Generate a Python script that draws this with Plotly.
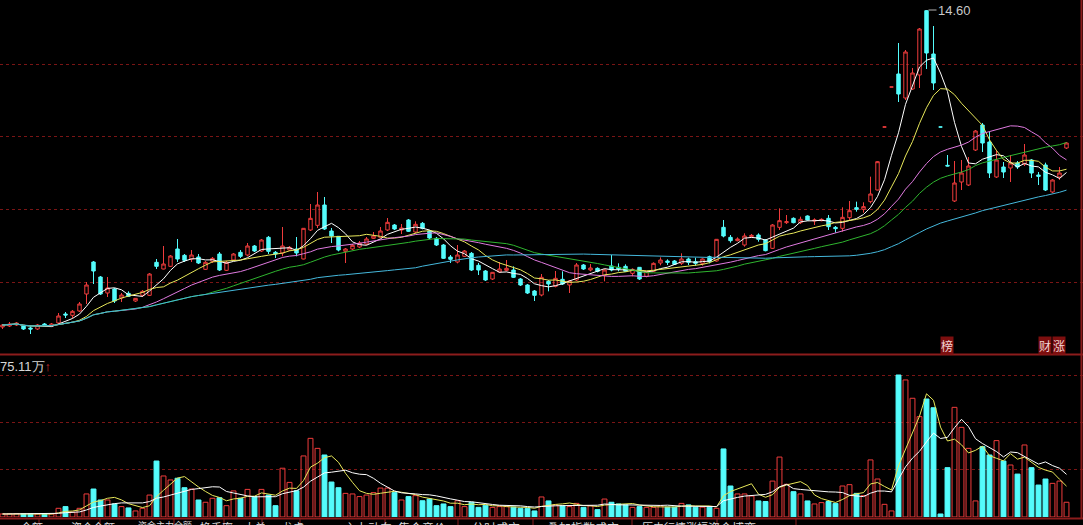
import plotly.graph_objects as go
import pandas as pd

opens = [5.09,5.12,5.15,5.12,5.06,5.03,5.18,5.12,5.21,5.48,5.44,5.57,6.08,7.04,6.59,6.11,6.23,5.96,6.10,5.87,
         6.04,6.04,7.03,6.83,6.91,7.43,7.24,7.13,7.19,6.82,7.06,7.28,6.79,7.10,7.33,7.25,7.52,7.37,7.78,7.33,
         7.31,7.40,7.43,7.13,8.00,8.14,8.75,7.97,7.81,7.36,7.43,7.49,7.58,7.75,7.78,8.00,8.15,8.00,8.30,7.94,
         8.20,7.97,7.75,7.55,7.19,7.04,7.21,7.30,6.94,6.77,6.53,6.74,6.79,6.80,6.53,6.35,6.17,6.05,6.46,6.31,
         6.52,6.35,6.50,6.95,6.80,6.85,6.64,6.92,6.88,6.91,6.70,6.88,6.61,6.76,7.01,7.07,7.07,7.00,7.13,7.05,
         7.00,7.20,7.07,8.08,7.78,7.68,7.55,7.80,7.85,7.70,7.45,8.08,8.22,8.35,8.22,8.42,8.27,8.28,8.35,8.08,
         8.05,8.37,8.67,8.62,8.85,9.20,11.09,12.29,12.68,11.96,12.23,12.65,14.58,13.28,11.09,9.94,8.87,9.44,9.35,10.40,
         11.15,10.64,9.59,9.89,9.86,10.01,9.98,10.10,9.65,9.95,9.14,9.59,10.46]
highs = [5.18,5.24,5.24,5.15,5.12,5.18,5.21,5.21,5.51,5.54,5.60,5.84,6.44,7.07,6.62,6.59,6.26,6.11,6.16,5.96,
         6.20,6.71,7.13,7.52,7.25,7.73,7.28,7.40,7.28,7.07,7.19,7.34,7.07,7.31,7.40,7.61,7.55,7.73,7.82,7.37,
         8.09,7.52,7.79,8.06,8.78,9.14,8.99,8.06,7.82,7.46,7.58,7.67,7.79,7.94,8.09,8.36,8.18,8.18,8.33,8.26,
         8.24,8.00,7.79,7.58,7.25,7.55,7.40,7.34,7.01,6.80,6.74,7.04,7.10,6.91,6.56,6.38,6.20,6.68,6.50,6.77,
         6.76,6.50,7.01,6.98,6.98,6.88,6.83,7.25,7.00,6.97,6.85,6.89,6.77,7.03,7.18,7.12,7.10,7.30,7.17,7.17,
         7.15,7.23,7.73,8.30,7.85,7.78,7.90,7.88,7.90,7.73,8.18,8.65,8.45,8.38,8.40,8.44,8.35,8.35,8.45,8.12,
         8.68,8.87,8.85,8.83,9.60,10.07,11.09,12.29,13.61,13.40,12.86,14.06,14.60,14.12,11.09,10.25,10.07,10.10,10.19,11.00,
         11.21,10.94,10.40,10.04,10.25,10.07,10.58,10.13,9.74,10.02,9.53,9.89,10.64]
lows = [5.03,5.09,5.12,5.00,4.88,5.00,5.09,5.09,5.18,5.36,5.36,5.54,5.78,6.38,6.05,5.99,5.81,5.84,5.99,5.84,
        5.99,6.02,6.83,6.82,6.89,7.04,7.04,7.04,6.98,6.80,7.01,6.77,6.77,7.07,7.16,7.21,7.34,7.34,7.28,7.16,
        7.21,7.37,7.21,7.12,7.97,8.06,8.00,7.61,7.36,7.01,7.40,7.46,7.55,7.73,7.76,7.97,8.00,7.88,7.94,7.91,
        8.02,7.73,7.52,7.13,7.01,7.00,7.19,6.77,6.65,6.47,6.50,6.71,6.76,6.56,6.32,6.08,5.87,6.01,6.16,6.28,
        6.35,6.11,6.47,6.80,6.76,6.73,6.46,6.76,6.76,6.74,6.61,6.50,6.58,6.74,6.94,6.95,6.95,6.95,6.95,6.93,
        6.93,7.00,7.05,7.78,7.62,7.66,7.50,7.78,7.65,7.36,7.43,8.00,8.18,8.20,8.18,8.28,8.15,8.26,8.00,7.92,
        7.95,8.30,8.55,8.52,8.80,9.19,11.09,12.29,11.84,11.90,12.20,12.26,12.83,12.20,11.09,9.91,8.84,9.20,9.32,10.37,
        10.34,9.56,9.56,9.56,9.44,9.83,9.92,9.56,9.35,9.17,9.11,9.50,10.43]
closes = [5.15,5.18,5.21,5.03,5.03,5.15,5.12,5.18,5.42,5.45,5.56,5.78,6.35,6.77,6.08,6.26,5.87,6.05,6.01,5.95,
          6.16,6.68,6.91,6.98,7.22,7.13,7.09,7.25,7.01,7.03,7.15,6.80,7.03,7.28,7.21,7.52,7.37,7.70,7.36,7.28,
          7.52,7.48,7.31,8.05,8.35,8.75,8.03,7.82,7.40,7.43,7.54,7.61,7.73,7.82,7.97,8.23,8.03,8.06,7.96,8.17,
          8.05,7.76,7.55,7.15,7.12,7.25,7.37,6.80,6.80,6.50,6.73,6.83,6.85,6.58,6.35,6.11,6.04,6.58,6.38,6.55,
          6.38,6.47,6.95,6.83,6.86,6.76,6.80,6.80,6.83,6.76,6.82,6.53,6.76,7.00,7.10,7.03,6.97,7.13,7.03,7.00,
          7.13,7.05,7.72,7.82,7.68,7.73,7.82,7.84,7.72,7.38,8.15,8.28,8.25,8.22,8.32,8.30,8.30,8.32,8.10,8.04,
          8.38,8.58,8.62,8.70,9.08,10.05,11.09,12.29,12.08,13.34,12.71,14.03,13.31,12.41,11.09,9.92,9.41,9.71,9.92,10.97,
          10.61,9.71,10.10,9.74,10.01,9.89,10.25,9.71,9.61,9.20,9.50,9.71,10.61]
volumes = [1.6,1.6,1.7,1.6,1.6,1.6,1.5,1.6,4.6,5.5,2.5,4.6,12.2,14.8,9.0,9.0,6.9,5.5,4.8,3.2,
           4.6,11.6,29.6,21.7,19.6,20.5,15.5,14.8,9.0,7.8,9.9,10.2,6.0,13.8,9.9,14.6,10.8,14.6,11.6,6.0,
           25.8,18.3,13.9,32.3,41.6,36.3,32.8,18.5,15.5,12.5,12.2,10.8,11.6,12.9,15.3,15.3,12.9,9.0,10.8,11.3,
           8.6,9.5,6.0,6.9,5.5,8.6,5.5,7.8,5.1,6.2,5.1,5.5,5.5,5.2,4.6,4.6,3.2,10.6,8.5,6.4,
           6.0,5.5,7.2,5.1,5.9,3.9,9.5,7.8,6.9,6.4,5.1,5.5,5.1,5.1,5.9,5.2,5.2,7.2,6.4,5.2,
           5.2,5.2,4.6,36.0,16.4,12.2,12.2,11.1,8.5,8.2,19.0,31.7,17.3,13.4,12.2,8.5,6.9,7.6,8.2,7.2,
           16.4,17.1,12.5,11.3,30.2,20.1,6.7,3.2,75.11,72.5,62.8,53.1,62.4,57.8,1.6,26.1,58.0,47.4,36.3,8.5,
           37.2,32.8,40.4,29.6,27.5,22.7,38.1,26.1,16.9,20.1,17.8,19.0,7.8]

ma_periods = [5, 10, 20, 30, 60]
ma_colors = ["#ffffff", "#e8e85a", "#e07ae0", "#2fb52f", "#45b8dc"]
vol_ma_periods = [5, 10]
vol_ma_colors = ["#e8e85a", "#ffffff"]
price_grid = [6.44, 8.62, 10.80, 12.98]
vol_grid = [25.04, 50.07, 75.11]
tab_labels = ["全额", "资金全额", "资金主力全额", "换手率", "大单", "龙虎", "主力动向", "集合竞价",
              "分时成交", "叠加指数成交", "历史行情涨幅", "资金博弈"]
tab_edges = [0, 39, 100, 174, 224, 262, 300, 385, 458, 533, 632, 717, 796]

UP = "#f03c3c"
DN = "#54fcfc"
W, H = 1083, 525
n = len(closes)
xs = list(range(n))

dirs = []
for i in range(n):
    if closes[i] > opens[i]:
        dirs.append(1)
    elif closes[i] < opens[i]:
        dirs.append(-1)
    else:
        dirs.append(1 if i == 0 or closes[i] >= closes[i - 1] else -1)

cs = pd.Series(closes)
vs = pd.Series(volumes)

fig = go.Figure()

for p, c in zip(ma_periods, ma_colors):
    fig.add_trace(go.Scatter(x=xs, y=cs.rolling(p, min_periods=1).mean(), mode="lines",
                             line=dict(color=c, width=1), hoverinfo="skip", xaxis="x", yaxis="y"))

fig.add_trace(go.Candlestick(
    x=xs, open=opens, high=highs, low=lows, close=closes,
    increasing=dict(line=dict(color=UP, width=1), fillcolor="rgba(0,0,0,0)"),
    decreasing=dict(line=dict(color=DN, width=1), fillcolor=DN),
    whiskerwidth=0, xaxis="x", yaxis="y"))

fig.add_trace(go.Bar(
    x=xs, y=volumes, width=0.7,
    marker=dict(color=["rgba(0,0,0,0)" if d > 0 else DN for d in dirs],
                line=dict(color=[UP if d > 0 else DN for d in dirs], width=1)),
    xaxis="x2", yaxis="y2", hoverinfo="skip"))

for p, c in zip(vol_ma_periods, vol_ma_colors):
    fig.add_trace(go.Scatter(x=xs, y=vs.rolling(p, min_periods=1).mean(), mode="lines",
                             line=dict(color=c, width=1), hoverinfo="skip", xaxis="x2", yaxis="y2"))

def py(y):
    return 1 - y / H

xr = [-2.5 / 7, (W - 2.5) / 7]
fig.update_layout(
    width=W, height=H, margin=dict(l=0, r=0, t=0, b=0),
    paper_bgcolor="#000000", plot_bgcolor="#000000", showlegend=False,
    xaxis=dict(domain=[0, 1], range=xr, showgrid=False, zeroline=False, showticklabels=False,
               rangeslider=dict(visible=False), fixedrange=True),
    xaxis2=dict(domain=[0, 1], range=xr, showgrid=False, zeroline=False, showticklabels=False,
                anchor="y2", matches="x"),
    yaxis=dict(domain=[py(354), 1], range=[14.90 - 0.03 * 354, 14.90], tickvals=price_grid,
               showticklabels=False, showgrid=True, gridcolor="#7a1515", griddash="dot",
               gridwidth=1, zeroline=False),
    yaxis2=dict(domain=[py(517), py(355)], range=[0, 85.69], tickvals=vol_grid,
                showticklabels=False, showgrid=True, gridcolor="#7a1515", griddash="dot",
                gridwidth=1, zeroline=False, anchor="x2"),
)

shapes = [
    dict(type="line", xref="paper", yref="paper", x0=0, x1=1, y0=py(354.5), y1=py(354.5),
         line=dict(color="#8c1c1c", width=2)),
    dict(type="line", xref="paper", yref="paper", x0=0, x1=1, y0=py(518.5), y1=py(518.5),
         line=dict(color="#8c1c1c", width=2)),
    dict(type="line", xref="paper", yref="paper", x0=1081.5 / W, x1=1081.5 / W, y0=py(518), y1=1,
         line=dict(color="#8c1c1c", width=2)),
]
for e in tab_edges[1:]:
    shapes.append(dict(type="line", xref="paper", yref="paper", x0=e / W, x1=e / W,
                       y0=0, y1=py(518), line=dict(color="#8c1c1c", width=1)))
fig.update_layout(shapes=shapes)

ann = [
    dict(x=132, y=14.60, xref="x", yref="y", text="14.60", showarrow=True, ax=28, ay=0,
         arrowcolor="#b4b4b4", arrowhead=0, arrowwidth=1, standoff=2,
         font=dict(color="#c8c8c8", size=13, family="Liberation Sans")),
    dict(x=-2 / W, y=py(366), xref="paper", yref="paper", xanchor="left", yanchor="middle",
         text="75.11万<span style='color:#d03030'>↑</span>", showarrow=False,
         font=dict(color="#d8d8d8", size=13, family="Liberation Sans")),
]
for lab, xc in [("榜", 954), ("财", 1052), ("涨", 1066)]:
    ann.append(dict(x=xc / W, y=py(345.5), xref="paper", yref="paper", text=lab, showarrow=False,
                    bgcolor="#7d0f0f", borderpad=0,
                    font=dict(color="#f2d4d4", size=12, family="Noto Sans CJK SC")))
for k, lab in enumerate(tab_labels):
    xc = (tab_edges[k] + tab_edges[k + 1]) / 2
    wid = tab_edges[k + 1] - tab_edges[k]
    fs = max(7, min(12, int((wid - 16) / len(lab))))
    ann.append(dict(x=xc / W, y=py(518), xref="paper", yref="paper", yanchor="top", text=lab,
                    showarrow=False, borderpad=0,
                    font=dict(color="#d8d8d8", size=fs, family="Noto Sans CJK SC")))
fig.update_layout(annotations=ann)

fig.write_html("out.html", config={"displayModeBar": False, "staticPlot": True},
               post_script="document.body.style.margin='0px';document.body.style.overflow='hidden';")
